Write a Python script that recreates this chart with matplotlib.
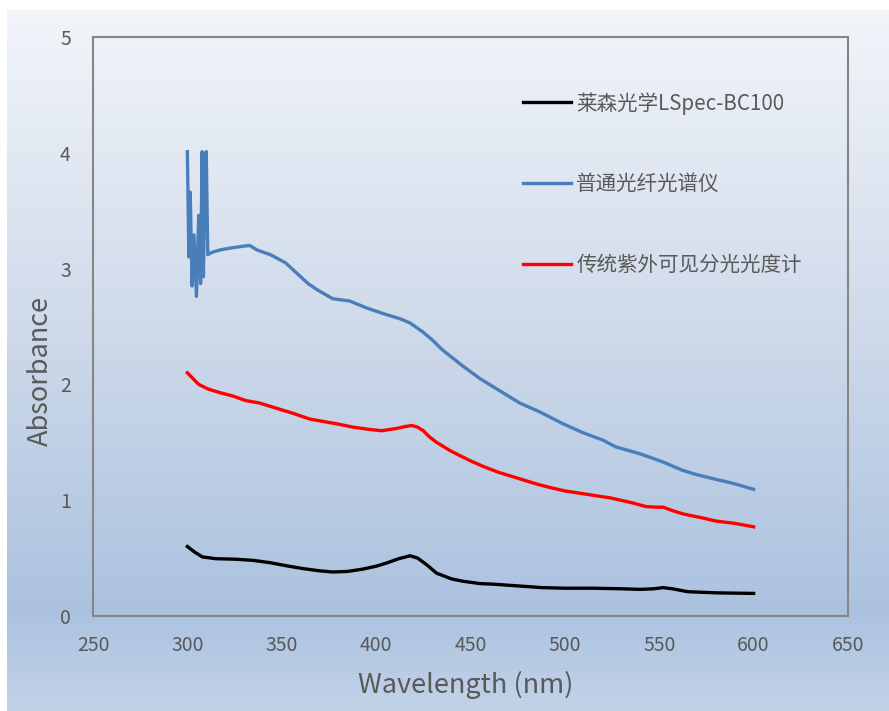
import numpy as np
import matplotlib
matplotlib.use("Agg")
import matplotlib.pyplot as plt
from matplotlib.colors import LinearSegmentedColormap

plt.rcParams['font.family'] = ['Noto Sans CJK SC', 'DejaVu Sans']

# ---------------- data ----------------
x_black = [300, 304, 308, 315, 326, 335, 344, 352, 361, 370, 377, 385, 393, 400, 406, 412,
           418, 422, 427, 432, 440, 446, 455, 462, 475, 488, 500, 515, 530, 540, 547, 552,
           557, 565, 580, 600]
y_black = [0.60, 0.55, 0.51, 0.495, 0.49, 0.48, 0.46, 0.435, 0.41, 0.39, 0.38, 0.385, 0.405,
           0.43, 0.46, 0.495, 0.52, 0.50, 0.44, 0.37, 0.32, 0.30, 0.28, 0.275, 0.26, 0.245,
           0.24, 0.24, 0.235, 0.23, 0.235, 0.245, 0.235, 0.21, 0.20, 0.195]

x_red = [300, 303, 306, 311, 317, 324, 331, 338, 344, 350, 356, 365, 372, 379, 388, 397, 403,
         407, 411, 415, 419, 422, 425, 428, 432, 439, 445, 450, 457, 465, 475, 485, 492, 500,
         512, 524, 535, 543, 548, 552, 557, 563, 572, 580, 590, 600]
y_red = [2.10, 2.05, 2.00, 1.96, 1.93, 1.90, 1.86, 1.84, 1.81, 1.78, 1.75, 1.70, 1.68, 1.66,
         1.63, 1.61, 1.60, 1.61, 1.62, 1.635, 1.645, 1.63, 1.60, 1.55, 1.50, 1.43, 1.38, 1.34,
         1.29, 1.24, 1.19, 1.14, 1.11, 1.08, 1.05, 1.02, 0.98, 0.945, 0.94, 0.94, 0.91, 0.88,
         0.85, 0.82, 0.80, 0.77]

x_blue = [300, 300.8, 301.5, 302.5, 303.5, 304.8, 306, 307, 307.8, 308.5, 309.3, 310, 310.8,
          313, 317, 322, 328, 333, 337, 344, 352, 358, 364, 369, 377, 386, 395, 404, 413, 418,
          425, 430, 435, 445, 455, 465, 476, 487, 499, 510, 520, 527, 540, 552, 562, 570, 580,
          589, 600]
y_blue = [4.01, 3.10, 3.66, 2.85, 3.29, 2.76, 3.46, 2.87, 4.01, 2.93, 3.90, 4.01, 3.12,
          3.14, 3.16, 3.175, 3.19, 3.20, 3.16, 3.12, 3.05, 2.96, 2.87, 2.815, 2.74, 2.72, 2.66,
          2.61, 2.565, 2.53, 2.45, 2.38, 2.30, 2.17, 2.05, 1.95, 1.84, 1.76, 1.66, 1.58, 1.52,
          1.46, 1.40, 1.33, 1.26, 1.22, 1.18, 1.146, 1.094]

labels = ['莱森光学LSpec-BC100', '普通光纤光谱仪', '传统紫外可见分光光度计']
x_ticks = [250, 300, 350, 400, 450, 500, 550, 600, 650]
y_ticks = [0, 1, 2, 3, 4, 5]

# ---------------- figure ----------------
W, H = 889, 711
fig = plt.figure(figsize=(W / 100, H / 100), dpi=100)
fig.patch.set_facecolor('white')

# gradient background
bg = fig.add_axes([7 / W, 0, 1 - 7 / W, 1 - 10 / H], zorder=-10)
cmap = LinearSegmentedColormap.from_list(
    'bg', [(0.0, '#f2f5fa'), (0.45, '#cfdaea'), (0.86, '#abc2df'), (1.0, '#c2d3e8')])
grad = np.linspace(0, 1, 256).reshape(-1, 1)
bg.imshow(grad, aspect='auto', cmap=cmap, extent=[0, 1, 1, 0])
bg.set_axis_off()

ax = fig.add_axes([93 / W, 1 - 616 / H, (848 - 93) / W, (616 - 37) / H])
ax.set_facecolor('none')

lw = 2.4
ax.plot(x_black, y_black, color='#000000', lw=lw, label=labels[0], solid_joinstyle='round')
ax.plot(x_blue, y_blue, color='#4a7ebb', lw=lw, label=labels[1], solid_joinstyle='round')
ax.plot(x_red, y_red, color='#ff0000', lw=lw, label=labels[2], solid_joinstyle='round')

ax.set_xlim(250, 650)
ax.set_ylim(0, 5)
ax.set_xticks(x_ticks)
ax.set_yticks(y_ticks)
ax.tick_params(length=0, labelsize=14, labelcolor='#595959')
ax.tick_params(axis='x', pad=14)
ax.tick_params(axis='y', pad=16)
for s in ax.spines.values():
    s.set_color('#868686')
    s.set_linewidth(1.5)

xl = ax.set_xlabel('Wavelength (nm)', fontsize=19.5, color='#595959')
ax.xaxis.set_label_coords((466 - 93) / 755, -(685 - 616) / 579)
xl.set_va('center')
yl = ax.set_ylabel('Absorbance', fontsize=19.5, color='#595959')
ax.yaxis.set_label_coords((40 - 93) / 755, 1 - (371 - 37) / 579)
yl.set_va('center')

leg = ax.legend(loc='upper left', bbox_to_anchor=(0.545, 0.937), frameon=False,
                fontsize=14.8, labelspacing=2.85, handlelength=2.35, handletextpad=0.25,
                labelcolor='#595959')

fig.savefig('out.png', dpi=100)
